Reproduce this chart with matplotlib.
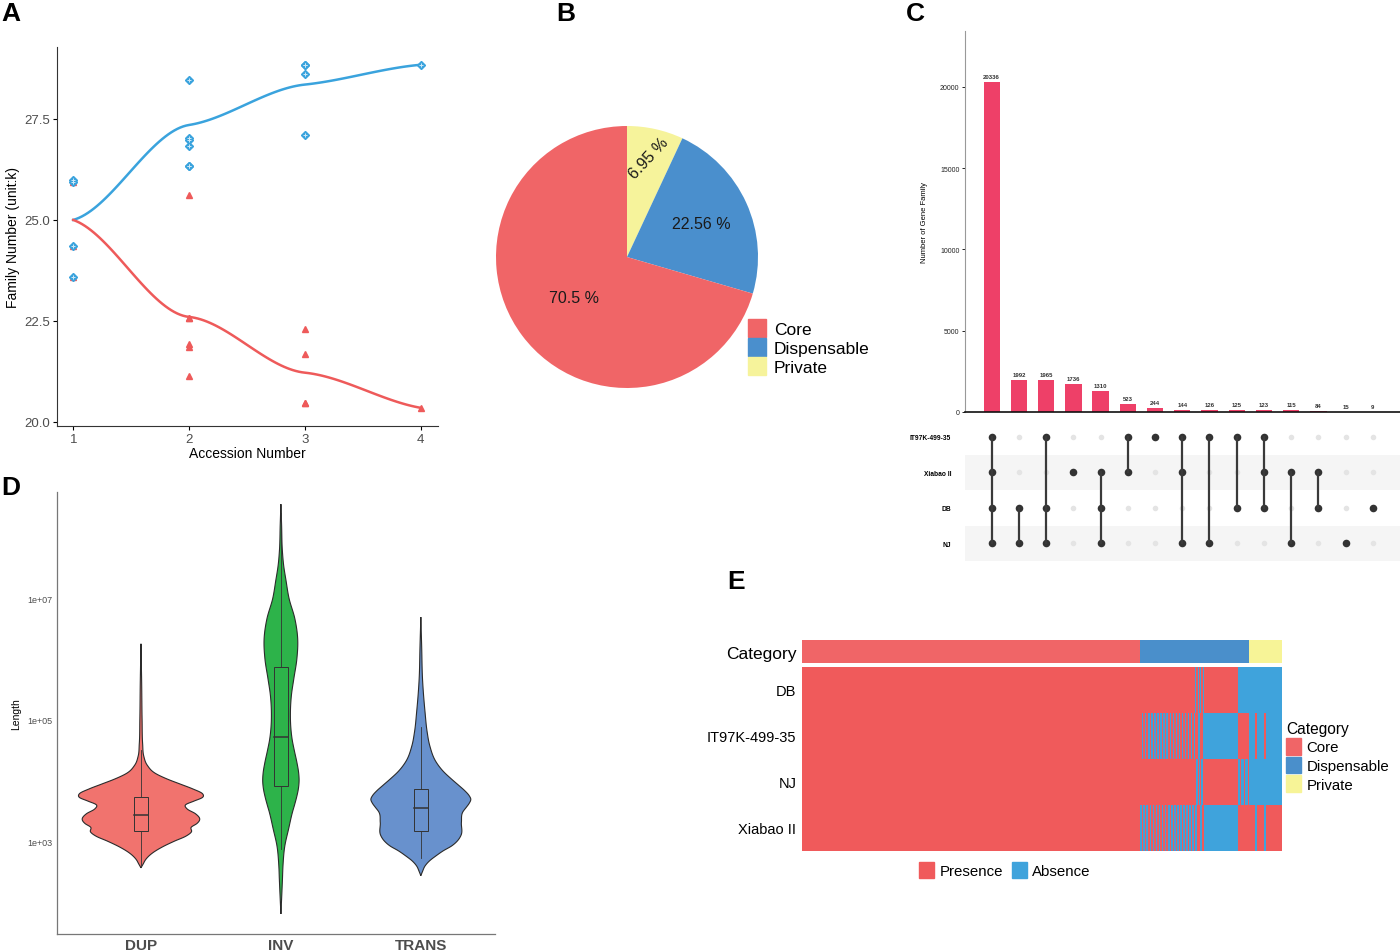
import numpy as np
import matplotlib
matplotlib.use('Agg')
import matplotlib.pyplot as plt
from matplotlib.patches import Patch, Rectangle
from matplotlib.colors import ListedColormap

plt.rcParams['font.family'] = ['Liberation Sans', 'DejaVu Sans']

# ---------- data ----------
# A: pan / core gene family curves (unit: k)
pan_x = [1, 1, 1, 1, 2, 2, 2, 2, 2, 2, 3, 3, 3, 3, 4]
pan_y = [26.0, 25.95, 24.36, 23.58, 28.47, 27.02, 26.98, 26.83, 26.34, 26.34,
         28.84, 28.84, 28.6, 27.11, 28.84]
core_x = [1, 1, 1, 1, 2, 2, 2, 2, 2, 2, 3, 3, 3, 3, 4]
core_y = [26.0, 25.95, 24.36, 23.58, 25.61, 22.57, 22.57, 21.92, 21.86, 21.14,
          22.31, 21.67, 20.48, 20.48, 20.35]
acc_n = [1, 2, 3, 4]
pan_mean = [25.0, 27.35, 28.35, 28.84]
core_mean = [25.0, 22.6, 21.22, 20.35]

# B: pie
pie_labels = ['Private', 'Dispensable', 'Core']
pie_share = [6.95, 22.56, 70.5]

# C: upset
upset_sets = ['IT97K-499-35', 'Xiabao II', 'DB', 'NJ']
upset_counts = [20336, 1992, 1965, 1736, 1310, 523, 244, 144, 126, 125, 123, 115, 84, 15, 9]
upset_members = [
    (1, 1, 1, 1), (0, 0, 1, 1), (1, 0, 1, 1), (0, 1, 0, 0), (0, 1, 1, 1),
    (1, 1, 0, 0), (1, 0, 0, 0), (1, 1, 0, 1), (1, 0, 0, 1), (1, 0, 1, 0),
    (1, 1, 1, 0), (0, 1, 0, 1), (0, 1, 1, 0), (0, 0, 0, 1), (0, 0, 1, 0),
]

# D: violin outlines (log10 length, half width)
sv_types = ['DUP', 'INV', 'TRANS']
dup_prof = [(6.25, 0.0), (5.6, 0.005), (5.0, 0.008), (4.6, 0.012), (4.40, 0.02), (4.25, 0.045),
            (4.12, 0.1), (4.02, 0.19), (3.94, 0.28), (3.86, 0.37), (3.78, 0.44), (3.72, 0.44),
            (3.66, 0.38), (3.60, 0.32), (3.53, 0.33), (3.45, 0.39), (3.36, 0.42), (3.29, 0.40),
            (3.23, 0.36), (3.15, 0.36), (3.08, 0.32), (3.0, 0.24), (2.90, 0.15), (2.80, 0.08),
            (2.70, 0.035), (2.62, 0.015), (2.56, 0.0)]
inv_prof = [(8.55, 0.0), (8.2, 0.005), (7.8, 0.01), (7.535, 0.02), (7.3, 0.036), (7.0, 0.058),
            (6.66, 0.10), (6.33, 0.12), (6.0, 0.114), (5.67, 0.092), (5.4, 0.075), (5.12, 0.068),
            (4.9, 0.07), (4.68, 0.08), (4.48, 0.097), (4.30, 0.114), (4.12, 0.127), (4.0, 0.13),
            (3.85, 0.124), (3.74, 0.114), (3.6, 0.098), (3.48, 0.083), (3.2, 0.055), (2.92, 0.028),
            (2.6, 0.015), (2.37, 0.011), (2.1, 0.006), (1.80, 0.0)]
trans_prof = [(6.69, 0.0), (6.2, 0.006), (5.67, 0.012), (5.125, 0.03), (4.8, 0.045), (4.57, 0.064),
              (4.30, 0.11), (4.15, 0.16), (4.02, 0.22), (3.92, 0.27), (3.83, 0.314), (3.75, 0.345),
              (3.69, 0.357), (3.62, 0.345), (3.56, 0.326), (3.48, 0.30), (3.31, 0.29), (3.09, 0.286),
              (3.0, 0.26), (2.92, 0.22), (2.84, 0.16), (2.76, 0.11), (2.67, 0.06), (2.59, 0.03),
              (2.50, 0.012), (2.43, 0.0)]
# box stats (log10): low whisker, q1, median, q3, high whisker
sv_box = [(2.6, 3.17, 3.43, 3.72, 4.5), (2.87, 3.90, 4.71, 5.87, 8.4), (2.73, 3.17, 3.54, 3.86, 4.88)]

# E: heatmap column order, groups of (upset combo, count) interleaved in n chunks
heat_rows = ['DB', 'IT97K-499-35', 'NJ', 'Xiabao II']
heat_groups = [
    ([(0, 20336)], 1),
    ([(2, 1965), (4, 1310)], 18),
    ([(8, 126), (9, 125), (10, 123), (11, 115), (12, 84)], 2),
    ([(1, 1992)], 1),
    ([(5, 523), (7, 144)], 3),
    ([(3, 776), (6, 244), (13, 15), (14, 9)], 2),
    ([(3, 960)], 1),
]

W, H = 1400, 953
fig = plt.figure(figsize=(14, 9.53), dpi=100)


def px_axes(l, t, r, b):
    return fig.add_axes([l / W, 1 - b / H, (r - l) / W, (b - t) / H])


def hermite(xs, ys, ms, n=40):
    ox, oy = [], []
    for i in range(len(xs) - 1):
        h = xs[i + 1] - xs[i]
        t = np.linspace(0, 1, n)
        h00 = 2 * t**3 - 3 * t**2 + 1
        h10 = t**3 - 2 * t**2 + t
        h01 = -2 * t**3 + 3 * t**2
        h11 = t**3 - t**2
        ox.append(xs[i] + t * h)
        oy.append(h00 * ys[i] + h10 * h * ms[i] + h01 * ys[i + 1] + h11 * h * ms[i + 1])
    return np.concatenate(ox), np.concatenate(oy)


for lab, x, y in [('A', 1, 14), ('B', 556, 14), ('C', 906, 14), ('D', 1, 488), ('E', 727, 582)]:
    fig.text(x / W, 1 - y / H, lab, fontsize=19, fontweight='bold', va='center', ha='left')

# ===== A =====
ax = px_axes(57, 48, 438, 427)
c_pan, c_core = '#3AA3DD', '#EE5A5A'
ax.plot(core_x, core_y, '^', color=c_core, ms=4, zorder=2)
ax.plot(pan_x, pan_y, 'D', color=c_pan, ms=4, zorder=3)
ax.plot(pan_x, pan_y, '+', color='#CFE9F7', ms=3.5, mew=0.7, zorder=4)
xs, ys = hermite(acc_n, pan_mean, [0.8, 0.45, 0.3, 0.25])
ax.plot(xs, ys, color=c_pan, lw=1.8, zorder=3)
xs, ys = hermite(acc_n, core_mean, [-1.0, -0.3, -0.3, -0.5])
ax.plot(xs, ys, color=c_core, lw=1.8, zorder=3)
ax.set_xlim(0.86, 4.15)
ax.set_ylim(19.9, 29.28)
ax.set_xticks(acc_n)
ax.set_yticks([20.0, 22.5, 25.0, 27.5])
ax.set_yticklabels(['20.0', '22.5', '25.0', '27.5'])
for s in ['top', 'right']:
    ax.spines[s].set_visible(False)
for s in ['left', 'bottom']:
    ax.spines[s].set_color('#333333')
ax.tick_params(labelsize=9.5, labelcolor='#4D4D4D', length=3, pad=2)
ax.set_xlabel('Accession Number', fontsize=10, labelpad=1)
ax.set_ylabel('Family Number (unit:k)', fontsize=10, labelpad=3)

# ===== B =====
ax = px_axes(496, 127, 758, 389)
pie_colors = ['#F6F39B', '#4A8FCD', '#F06567']
wedges, _ = ax.pie(pie_share, colors=pie_colors, startangle=90, counterclock=False, radius=1)
label_r = [0.78, 0.62, 0.51]
label_rot = [47, 0, 0]
for w, r, rot, v in zip(wedges, label_r, label_rot, pie_share):
    ang = np.deg2rad((w.theta1 + w.theta2) / 2)
    ax.text(r * np.cos(ang), r * np.sin(ang), f'{v:g} %', ha='center', va='center',
            fontsize=11.5, rotation=rot, color='#1a1a1a')
ax.set_xlim(-1, 1)
ax.set_ylim(-1, 1)
ax.set_aspect('equal')
handles = [Patch(color=c) for c in pie_colors[::-1]]
fig.legend(handles, pie_labels[::-1], loc='upper left', bbox_to_anchor=(732 / W, 1 - 304 / H),
           frameon=False, fontsize=12.5, handlelength=1.05, handleheight=1.25,
           labelspacing=0.05, handletextpad=0.45)

# ===== C =====
n_comb = len(upset_counts)
axb = px_axes(965, 32, 1400, 413)
axb.bar(range(n_comb), upset_counts, width=0.6, color='#EE4068')
for i, c in enumerate(upset_counts):
    axb.text(i, c + 180, str(c), ha='center', va='bottom', fontsize=4.3, fontweight='bold',
             color='#333333')
axb.set_xlim(-0.98, 15.0)
axb.set_ylim(0, 23446)
axb.set_xticks([])
axb.set_yticks([0, 5000, 10000, 15000, 20000])
axb.tick_params(axis='y', labelsize=5, length=2.5, width=0.6, pad=1.5, labelcolor='#222222')
for s in ['top', 'right']:
    axb.spines[s].set_visible(False)
axb.spines['left'].set_color('#999999')
axb.spines['left'].set_linewidth(0.8)
axb.spines['bottom'].set_color('#111111')
axb.spines['bottom'].set_linewidth(1.2)
axb.set_ylabel('Number of Gene Family', fontsize=5.5)
axb.yaxis.set_label_coords(-(965 - 928) / 435, 0.5)

axm = px_axes(965, 420, 1400, 562)
row_y = {0: 3, 1: 2, 2: 1, 3: 0}
for k in [1, 3]:
    axm.axhspan(row_y[k] - 0.5, row_y[k] + 0.5, color='#F5F5F5', lw=0, zorder=0)
for i, mem in enumerate(upset_members):
    act = [row_y[k] for k in range(4) if mem[k]]
    ina = [row_y[k] for k in range(4) if not mem[k]]
    axm.scatter([i] * len(ina), ina, s=16, color='#E4E4E4', zorder=2, lw=0)
    axm.scatter([i] * len(act), act, s=30, color='#333333', zorder=3, lw=0)
    if len(act) > 1:
        axm.plot([i, i], [min(act), max(act)], color='#3A3A3A', lw=1.6, zorder=3)
axm.set_xlim(-0.98, 15.0)
axm.set_ylim(-0.5, 3.5)
axm.set_xticks([])
axm.set_yticks([row_y[k] for k in range(4)])
axm.set_yticklabels(upset_sets, fontsize=4.8, fontweight='bold')
axm.tick_params(axis='y', length=0, pad=10)
for s in axm.spines.values():
    s.set_visible(False)

# ===== D =====
ax = px_axes(57, 493, 495, 935)
sv_colors = ['#F1736E', '#2DB34A', '#6891CD']
for i, (prof, col, bx) in enumerate(zip([dup_prof, inv_prof, trans_prof], sv_colors, sv_box)):
    pos = i + 1
    yy = np.array([p[0] for p in prof])[::-1]
    ww = np.array([p[1] for p in prof])[::-1]
    ms = np.gradient(ww, yy)
    ys_, ws_ = hermite(yy, ww, ms, n=12)
    ws_ = np.clip(ws_, 0, None)
    px = np.concatenate([pos + ws_, (pos - ws_)[::-1]])
    py = np.concatenate([10**ys_, (10**ys_)[::-1]])
    ax.fill(px, py, facecolor=col, edgecolor='#2b2b2b', lw=0.8, zorder=2)
    lo, q1, med, q3, hi = bx
    ax.plot([pos, pos], [10**lo, 10**q1], color='#333333', lw=0.6, zorder=3)
    ax.plot([pos, pos], [10**q3, 10**hi], color='#333333', lw=0.6, zorder=3)
    ax.add_patch(Rectangle((pos - 0.05, 10**q1), 0.1, 10**q3 - 10**q1, facecolor=col,
                           edgecolor='#333333', lw=0.7, zorder=3))
    ax.plot([pos - 0.05, pos + 0.05], [10**med, 10**med], color='#333333', lw=1.1, zorder=4)
ax.set_yscale('log')
ax.set_ylim(10**1.47, 10**8.75)
ax.set_xlim(0.4, 3.53)
ax.set_yticks([1e3, 1e5, 1e7])
ax.set_yticklabels(['1e+03', '1e+05', '1e+07'])
ax.minorticks_off()
ax.set_xticks([1, 2, 3])
ax.set_xticklabels(sv_types, fontsize=11, fontweight='bold', color='#4D4D4D')
ax.tick_params(axis='y', labelsize=6.5, labelcolor='#4D4D4D', length=0, pad=3)
ax.tick_params(axis='x', length=0, pad=3)
for s in ['top', 'right']:
    ax.spines[s].set_visible(False)
for s in ['left', 'bottom']:
    ax.spines[s].set_color('#777777')
    ax.spines[s].set_linewidth(0.9)
ax.set_ylabel('Length', fontsize=7.5, labelpad=5)

# ===== E =====
cols = []
for members, n in heat_groups:
    splits = [np.array_split(np.arange(c), n) for _, c in members]
    for k in range(n):
        for (idx, _), sp in zip(members, splits):
            cols.extend([idx] * len(sp[k]))
cols = np.array(cols)
mem = np.array(upset_members)[cols]  # N x 4 in upset_sets order
heat_idx = [upset_sets.index(r) for r in heat_rows]
presence = mem[:, heat_idx].T
n_in = mem.sum(axis=1)
category = np.where(cols == 0, 0, np.where(n_in == 1, 2, 1))

cat_colors = ['#F06567', '#4A8FCB', '#F7F497']
pa_colors = ['#3FA3DC', '#F05A5B']

axc = px_axes(802, 641, 1282, 664)
axc.imshow(category[None, :], aspect='auto', cmap=ListedColormap(cat_colors), vmin=0, vmax=2,
           interpolation='nearest')
axc.set_xticks([])
axc.set_yticks([0])
axc.set_yticklabels(['Category'], fontsize=12.5)
axc.tick_params(length=0, pad=4)
for s in axc.spines.values():
    s.set_visible(False)

axh = px_axes(802, 668, 1282, 852)
axh.imshow(presence, aspect='auto', cmap=ListedColormap(pa_colors), vmin=0, vmax=1,
           interpolation='nearest')
axh.set_xticks([])
axh.set_yticks(range(4))
axh.set_yticklabels(heat_rows, fontsize=10.5)
axh.tick_params(length=0, pad=4)
for s in axh.spines.values():
    s.set_visible(False)

fig.legend([Patch(color=c) for c in cat_colors], ['Core', 'Dispensable', 'Private'],
           title='Category', loc='upper left', bbox_to_anchor=(1286 / W, 1 - 722 / H),
           frameon=False, fontsize=10.8, title_fontsize=11.2,
           handlelength=1.0, handleheight=1.3, labelspacing=0.15, handletextpad=0.35,
           alignment='left', borderaxespad=0, borderpad=0)
fig.legend([Patch(color=pa_colors[1]), Patch(color=pa_colors[0])], ['Presence', 'Absence'],
           loc='center', bbox_to_anchor=(1005 / W, 1 - 871 / H), ncol=2, frameon=False,
           fontsize=10.8, handlelength=1.0, handleheight=1.3,
           handletextpad=0.35, columnspacing=0.6)

fig.savefig('out.png', dpi=100)
